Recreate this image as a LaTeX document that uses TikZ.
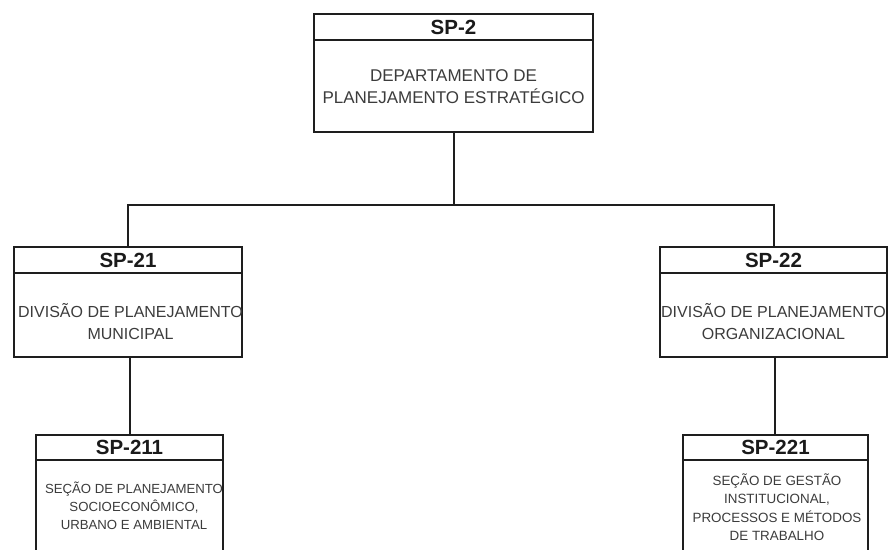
\documentclass[tikz,border=0pt]{standalone}
\usepackage{fontspec}
\setmainfont{Liberation Sans}
\definecolor{linec}{HTML}{1E1E1E}
\definecolor{hdrc}{HTML}{1A1A1A}
\definecolor{txtc}{HTML}{3C3C3C}
\begin{document}
\begin{tikzpicture}[x=1pt,y=-1pt,
  box/.style={draw=linec, line width=2pt, fill=white, inner sep=0pt, outer sep=0pt, rectangle},
  hdr/.style={font=\fontsize{20.5}{24}\selectfont\bfseries, text=hdrc, inner sep=0pt},
  txt/.style={align=center, text=txtc, inner sep=0pt},
  conn/.style={draw=linec, line width=2pt, line join=miter}]
\clip (0,0) rectangle (889,549);
\fill[white] (0,0) rectangle (889,549);
% boxes
\node[box, minimum width=279pt, minimum height=26pt] (h2) at (453.5,27) {};
\node[box, minimum width=279pt, minimum height=92pt] (b2) at (453.5,86) {};
\node[box, minimum width=228pt, minimum height=26pt] (h21) at (128,260) {};
\node[box, minimum width=228pt, minimum height=84pt] (b21) at (128,315) {};
\node[box, minimum width=227pt, minimum height=26pt] (h22) at (773.5,260) {};
\node[box, minimum width=227pt, minimum height=84pt] (b22) at (773.5,315) {};
\node[box, minimum width=187pt, minimum height=25pt] (h211) at (129.5,447.5) {};
\node[box, minimum width=187pt, minimum height=110pt] (b211) at (129.5,515) {};
\node[box, minimum width=185pt, minimum height=25pt] (h221) at (775.5,447.5) {};
\node[box, minimum width=185pt, minimum height=110pt] (b221) at (775.5,515) {};
% connectors
\coordinate (bus) at (0,205);
\draw[conn] (b2.south) -- (b2.south |- bus);
\draw[conn] (h21.north) -- (h21.north |- bus) -- (h22.north |- bus) -- (h22.north);
\draw[conn] (b21.south -| 130,0) -- (h211.north -| 130,0);
\draw[conn] (b22.south -| 775,0) -- (h221.north -| 775,0);
% headers
\node[hdr] (t2) at (h2.center) {SP-2};
\node[hdr] (t21) at (h21.center) {SP-21};
\node[hdr] (t22) at (h22.center) {SP-22};
\node[hdr] (t211) at (h211.center) {SP-211};
\node[hdr] (t221) at (h221.center) {SP-221};
% body texts
\node[txt, font=\fontsize{17}{22}\selectfont] (x2) at (453.5,87) {DEPARTAMENTO DE\\PLANEJAMENTO ESTRATÉGICO};
\node[txt, font=\fontsize{16}{22}\selectfont] (x21) at (130.5,322) {DIVISÃO DE PLANEJAMENTO\\MUNICIPAL};
\node[txt, font=\fontsize{16}{22}\selectfont] (x22) at (773.5,322) {DIVISÃO DE PLANEJAMENTO\\ORGANIZACIONAL};
\node[txt, font=\fontsize{13.2}{18}\selectfont] (x211) at (134,506) {SEÇÃO DE PLANEJAMENTO\\SOCIOECONÔMICO,\\URBANO E AMBIENTAL};
\node[txt, font=\fontsize{13.4}{18.5}\selectfont] (x221) at (777,507) {SEÇÃO DE GESTÃO\\INSTITUCIONAL,\\PROCESSOS E MÉTODOS\\DE TRABALHO};
\end{tikzpicture}
\end{document}
